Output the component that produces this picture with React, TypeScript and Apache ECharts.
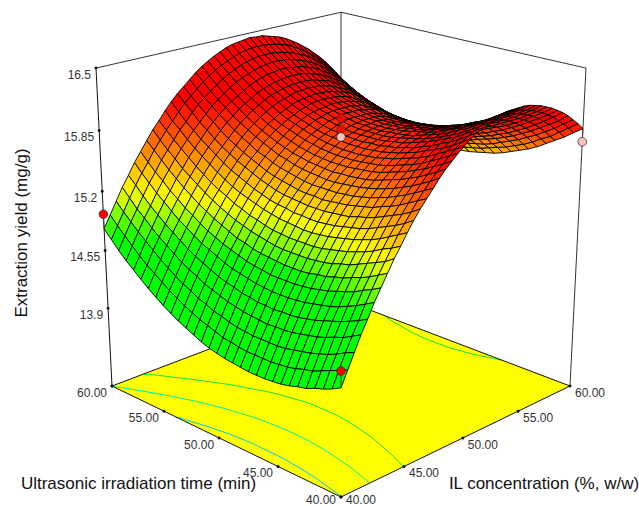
import React, { useEffect, useRef } from "react";
import * as echarts from "echarts";

// Extraction yield at each grid node: rows run along IL concentration (40 to 60), columns along time (40 to 60).
const surface: number[][] = [
[14.13,14.08,14.04,14.01,13.97,13.95,13.92,13.90,13.89,13.88,13.88,13.88,13.89,13.90,13.91,13.93,13.95,13.98,14.02,14.06,14.10,14.15,14.20,14.26,14.32,14.39,14.46,14.53,14.61,14.70,14.79],
[14.28,14.24,14.20,14.16,14.12,14.10,14.07,14.05,14.04,14.03,14.03,14.03,14.03,14.04,14.06,14.07,14.10,14.13,14.16,14.20,14.24,14.29,14.34,14.40,14.46,14.52,14.59,14.67,14.75,14.83,14.92],
[14.43,14.39,14.34,14.30,14.27,14.24,14.22,14.20,14.18,14.17,14.17,14.17,14.17,14.18,14.19,14.21,14.24,14.26,14.30,14.33,14.38,14.42,14.47,14.53,14.59,14.66,14.73,14.80,14.88,14.96,15.05],
[14.58,14.53,14.48,14.45,14.41,14.38,14.36,14.34,14.32,14.31,14.31,14.30,14.31,14.32,14.33,14.35,14.37,14.40,14.43,14.46,14.51,14.55,14.60,14.66,14.72,14.78,14.85,14.93,15.00,15.09,15.18],
[14.71,14.66,14.62,14.58,14.55,14.52,14.49,14.47,14.45,14.44,14.44,14.43,14.44,14.44,14.46,14.47,14.50,14.52,14.55,14.59,14.63,14.67,14.72,14.78,14.84,14.90,14.97,15.04,15.12,15.21,15.29],
[14.85,14.80,14.75,14.71,14.67,14.64,14.62,14.60,14.58,14.57,14.56,14.56,14.56,14.57,14.58,14.60,14.62,14.64,14.67,14.71,14.75,14.79,14.84,14.90,14.95,15.02,15.09,15.16,15.24,15.32,15.41],
[14.97,14.92,14.88,14.83,14.80,14.77,14.74,14.72,14.70,14.69,14.68,14.68,14.68,14.68,14.70,14.71,14.73,14.76,14.79,14.82,14.86,14.90,14.95,15.01,15.06,15.13,15.19,15.27,15.34,15.42,15.51],
[15.09,15.04,14.99,14.95,14.92,14.88,14.86,14.83,14.82,14.80,14.79,14.79,14.79,14.80,14.81,14.82,14.84,14.87,14.89,14.93,14.97,15.01,15.06,15.11,15.17,15.23,15.30,15.37,15.45,15.53,15.61],
[15.21,15.15,15.11,15.07,15.03,14.99,14.97,14.94,14.92,14.91,14.90,14.90,14.90,14.90,14.91,14.93,14.95,14.97,15.00,15.03,15.07,15.11,15.16,15.21,15.27,15.33,15.39,15.47,15.54,15.62,15.71],
[15.31,15.26,15.22,15.17,15.13,15.10,15.07,15.05,15.03,15.01,15.00,15.00,15.00,15.00,15.01,15.02,15.04,15.07,15.09,15.13,15.16,15.21,15.25,15.30,15.36,15.42,15.49,15.56,15.63,15.71,15.79],
[15.42,15.37,15.32,15.27,15.23,15.20,15.17,15.15,15.13,15.11,15.10,15.09,15.09,15.10,15.11,15.12,15.14,15.16,15.19,15.22,15.25,15.29,15.34,15.39,15.45,15.51,15.57,15.64,15.72,15.79,15.88],
[15.52,15.46,15.41,15.37,15.33,15.29,15.26,15.24,15.22,15.20,15.19,15.18,15.18,15.19,15.19,15.21,15.22,15.24,15.27,15.30,15.34,15.38,15.42,15.47,15.53,15.59,15.65,15.72,15.79,15.87,15.96],
[15.61,15.55,15.50,15.46,15.42,15.38,15.35,15.33,15.30,15.29,15.28,15.27,15.27,15.27,15.28,15.29,15.30,15.32,15.35,15.38,15.42,15.46,15.50,15.55,15.60,15.66,15.73,15.79,15.87,15.95,16.03],
[15.69,15.64,15.59,15.54,15.50,15.47,15.43,15.41,15.39,15.37,15.36,15.35,15.34,15.35,15.35,15.36,15.38,15.40,15.42,15.45,15.49,15.53,15.57,15.62,15.67,15.73,15.80,15.86,15.94,16.01,16.09],
[15.77,15.72,15.67,15.62,15.58,15.54,15.51,15.48,15.46,15.44,15.43,15.42,15.42,15.42,15.42,15.43,15.45,15.47,15.49,15.52,15.56,15.59,15.64,15.69,15.74,15.80,15.86,15.93,16.00,16.07,16.15],
[15.85,15.79,15.74,15.69,15.65,15.61,15.58,15.55,15.53,15.51,15.50,15.49,15.48,15.48,15.49,15.50,15.51,15.53,15.56,15.58,15.62,15.66,15.70,15.75,15.80,15.85,15.92,15.98,16.05,16.13,16.21],
[15.92,15.86,15.81,15.76,15.72,15.68,15.65,15.62,15.59,15.57,15.56,15.55,15.55,15.54,15.55,15.56,15.57,15.59,15.61,15.64,15.67,15.71,15.75,15.80,15.85,15.91,15.97,16.03,16.10,16.18,16.26],
[15.98,15.92,15.87,15.82,15.78,15.74,15.71,15.68,15.65,15.63,15.62,15.61,15.60,15.60,15.60,15.61,15.62,15.64,15.66,15.69,15.72,15.76,15.80,15.85,15.90,15.95,16.01,16.08,16.15,16.22,16.30],
[16.04,15.98,15.93,15.88,15.83,15.79,15.76,15.73,15.70,15.68,15.67,15.66,15.65,15.65,15.65,15.66,15.67,15.69,15.71,15.74,15.77,15.80,15.84,15.89,15.94,15.99,16.05,16.12,16.19,16.26,16.34],
[16.09,16.03,15.98,15.93,15.88,15.84,15.81,15.78,15.75,15.73,15.71,15.70,15.69,15.69,15.69,15.70,15.71,15.73,15.75,15.78,15.81,15.84,15.88,15.93,15.98,16.03,16.09,16.15,16.22,16.29,16.37],
[16.14,16.08,16.02,15.97,15.93,15.89,15.85,15.82,15.79,15.77,15.75,15.74,15.73,15.73,15.73,15.74,15.75,15.76,15.78,15.81,15.84,15.87,15.91,15.96,16.01,16.06,16.12,16.18,16.25,16.32,16.40],
[16.18,16.12,16.06,16.01,15.97,15.92,15.89,15.85,15.83,15.80,15.79,15.77,15.77,15.76,15.76,15.77,15.78,15.79,15.81,15.84,15.87,15.90,15.94,15.98,16.03,16.08,16.14,16.20,16.27,16.34,16.42],
[16.21,16.15,16.10,16.04,16.00,15.96,15.92,15.89,15.86,15.83,15.82,15.80,15.79,15.79,15.79,15.79,15.80,15.82,15.84,15.86,15.89,15.92,15.96,16.00,16.05,16.10,16.16,16.22,16.29,16.36,16.43],
[16.24,16.18,16.12,16.07,16.02,15.98,15.94,15.91,15.88,15.86,15.84,15.82,15.81,15.81,15.81,15.81,15.82,15.84,15.85,15.88,15.90,15.94,15.97,16.02,16.06,16.11,16.17,16.23,16.30,16.37,16.44],
[16.27,16.20,16.15,16.09,16.05,16.00,15.96,15.93,15.90,15.87,15.85,15.84,15.83,15.82,15.82,15.83,15.83,15.85,15.87,15.89,15.91,15.95,15.98,16.02,16.07,16.12,16.18,16.24,16.30,16.37,16.45],
[16.28,16.22,16.16,16.11,16.06,16.02,15.98,15.94,15.91,15.89,15.87,15.85,15.84,15.83,15.83,15.83,15.84,15.85,15.87,15.89,15.92,15.95,15.99,16.03,16.07,16.12,16.18,16.24,16.30,16.37,16.44],
[16.30,16.23,16.17,16.12,16.07,16.03,15.98,15.95,15.92,15.89,15.87,15.86,15.84,15.84,15.83,15.84,15.84,15.85,15.87,15.89,15.92,15.95,15.98,16.02,16.07,16.12,16.17,16.23,16.29,16.36,16.44],
[16.30,16.24,16.18,16.12,16.07,16.03,15.99,15.95,15.92,15.89,15.87,15.85,15.84,15.83,15.83,15.83,15.84,15.85,15.87,15.89,15.91,15.94,15.98,16.02,16.06,16.11,16.16,16.22,16.28,16.35,16.42],
[16.30,16.24,16.18,16.12,16.07,16.03,15.98,15.95,15.92,15.89,15.87,15.85,15.83,15.83,15.82,15.82,15.83,15.84,15.85,15.87,15.90,15.93,15.96,16.00,16.04,16.09,16.15,16.20,16.26,16.33,16.40],
[16.30,16.23,16.17,16.12,16.06,16.02,15.98,15.94,15.91,15.88,15.85,15.84,15.82,15.81,15.81,15.81,15.81,15.82,15.84,15.86,15.88,15.91,15.94,15.98,16.02,16.07,16.12,16.18,16.24,16.31,16.38],
[16.29,16.22,16.16,16.10,16.05,16.00,15.96,15.92,15.89,15.86,15.84,15.82,15.80,15.79,15.79,15.79,15.79,15.80,15.82,15.83,15.86,15.88,15.92,15.95,16.00,16.04,16.10,16.15,16.21,16.28,16.35],
[16.27,16.20,16.14,16.09,16.03,15.98,15.94,15.90,15.87,15.84,15.81,15.79,15.78,15.77,15.76,15.76,15.77,15.77,15.79,15.80,15.83,15.85,15.89,15.92,15.96,16.01,16.06,16.12,16.18,16.24,16.31],
[16.25,16.18,16.12,16.06,16.01,15.96,15.91,15.88,15.84,15.81,15.79,15.77,15.75,15.74,15.73,15.73,15.73,15.74,15.75,15.77,15.79,15.82,15.85,15.89,15.93,15.97,16.02,16.08,16.14,16.20,16.27],
[16.22,16.15,16.09,16.03,15.98,15.93,15.88,15.84,15.81,15.78,15.75,15.73,15.71,15.70,15.69,15.69,15.69,15.70,15.71,15.73,15.75,15.78,15.81,15.84,15.88,15.93,15.98,16.03,16.09,16.15,16.22],
[16.19,16.12,16.06,16.00,15.94,15.89,15.85,15.81,15.77,15.74,15.71,15.69,15.67,15.66,15.65,15.65,15.65,15.66,15.67,15.68,15.70,15.73,15.76,15.79,15.83,15.88,15.93,15.98,16.04,16.10,16.17],
[16.15,16.08,16.02,15.96,15.90,15.85,15.80,15.76,15.72,15.69,15.67,15.64,15.63,15.61,15.60,15.60,15.60,15.61,15.62,15.63,15.65,15.68,15.71,15.74,15.78,15.82,15.87,15.92,15.98,16.04,16.11],
[16.11,16.04,15.97,15.91,15.85,15.80,15.75,15.71,15.67,15.64,15.61,15.59,15.57,15.56,15.55,15.55,15.55,15.55,15.56,15.58,15.59,15.62,15.65,15.68,15.72,15.76,15.81,15.86,15.92,15.98,16.05],
[16.06,15.98,15.92,15.86,15.80,15.75,15.70,15.66,15.62,15.59,15.56,15.53,15.51,15.50,15.49,15.49,15.48,15.49,15.50,15.51,15.53,15.55,15.58,15.61,15.65,15.69,15.74,15.79,15.85,15.91,15.98],
[16.00,15.93,15.86,15.80,15.74,15.69,15.64,15.60,15.56,15.52,15.49,15.47,15.45,15.44,15.42,15.42,15.42,15.42,15.43,15.44,15.46,15.48,15.51,15.54,15.58,15.62,15.67,15.72,15.77,15.83,15.90],
[15.94,15.87,15.80,15.73,15.68,15.62,15.57,15.53,15.49,15.46,15.43,15.40,15.38,15.36,15.35,15.35,15.35,15.35,15.36,15.37,15.39,15.41,15.43,15.47,15.50,15.54,15.59,15.64,15.69,15.75,15.82],
[15.87,15.80,15.73,15.67,15.61,15.55,15.50,15.46,15.42,15.38,15.35,15.33,15.31,15.29,15.28,15.27,15.27,15.27,15.28,15.29,15.31,15.33,15.35,15.38,15.42,15.46,15.50,15.55,15.61,15.67,15.73],
];
const NA = surface.length - 1, NB = surface[0].length - 1;

const zTicks = [13.9, 14.55, 15.2, 15.85, 16.5];
const zLabels = ["13.9", "14.55", "15.2", "15.85", "16.5"];
const timeTicks = [40, 45, 50, 55, 60];
const ilTicks = [40, 45, 50, 55, 60];
const contourLevels = [14.14, 14.78, 15.41];
const contourColors = ["#00c8f8", "#00eea0", "#10e050"];
const designIL = [40, 60, 40, 50, 50, 50];
const designTime = [60, 40, 40, 50, 50, 50];
const designYield = [14.95, 15.73, 14.3, 15.98, 15.86, 15.78];
const designFill = ["#ff0000", "#ffc0c0", "#ff0000", "#ff0000", "#ff0000", "#ffc0c0"];

const Z0 = 13, Z1 = 16.5;
function project(a: number, b: number, z: number): number[] {
  const h = (z - Z0) / (Z1 - Z0);
  const w = 1 + 0.138 * (a + b) - 0.0743 * h;
  return [341 + 260.6 * (a - b) / w, (497 - 57.7 * (a + b) - 366.9 * h) / w];
}
function cellColor(z: number): string {
  const c = (t: number) => Math.round(255 * Math.max(0, Math.min(1, t)));
  if (z < 15.15) return `rgb(${c((z - 14.72) / 0.43)},255,0)`;
  return `rgb(255,${c(1 - (z - 15.15) / 0.8)},0)`;
}
function contourSegments() {
  const segs: { pts: number[][]; k: number }[] = [];
  contourLevels.forEach((lv, k) => {
    for (let i = 0; i < NA; i++) for (let j = 0; j < NB; j++) {
      const corners = [[i, j], [i + 1, j], [i + 1, j + 1], [i, j + 1]];
      const pts: number[][] = [];
      for (let e = 0; e < 4; e++) {
        const p = corners[e], q = corners[(e + 1) % 4];
        const zp = surface[p[0]][p[1]], zq = surface[q[0]][q[1]];
        if ((zp < lv) !== (zq < lv)) {
          const t = (lv - zp) / (zq - zp);
          pts.push([(p[0] + t * (q[0] - p[0])) / NA, (p[1] + t * (q[1] - p[1])) / NB]);
        }
      }
      if (pts.length >= 2) segs.push({ pts: pts.slice(0, 2), k });
    }
  });
  return segs;
}

export default function App() {
  const ref = useRef<HTMLDivElement>(null);
  useEffect(() => {
    document.body.style.margin = "0";
    const chart = echarts.init(ref.current!, undefined, { renderer: "svg" });
    const font = "Liberation Sans, Arial, sans-serif";
    const cells: number[][] = [];
    for (let i = NA - 1; i >= 0; i--) for (let j = NB - 1; j >= 0; j--) cells.push([i, j]);
    const segs = contourSegments();
    const lines: { p: number[][]; col: string; w: number }[] = [];
    const k = "#111";
    const edge = (p: number[], q: number[], col = k, w = 1) => lines.push({ p: [project(p[0], p[1], p[2]), project(q[0], q[1], q[2])], col, w });
    edge([0, 1, Z0], [0, 1, Z1]); edge([1, 0, Z0], [1, 0, Z1], "#333");
    edge([1, 1, Z0], [1, 1, Z1], "#333");
    edge([0, 1, Z1], [1, 1, Z1], "#333"); edge([1, 0, Z1], [1, 1, Z1], "#333");
    const floorLines: typeof lines = [];
    const fl = (p: number[], q: number[]) => floorLines.push({ p: [project(p[0], p[1], Z0), project(q[0], q[1], Z0)], col: k, w: 1 });
    fl([0, 0], [1, 0]); fl([0, 0], [0, 1]); fl([1, 0], [1, 1]); fl([0, 1], [1, 1]);
    const tickPts: number[][] = [];
    zTicks.forEach((z) => tickPts.push(project(0, 1, z)));
    tickPts.push(project(0, 1, Z0));
    timeTicks.forEach((t) => tickPts.push(project(0, (t - 40) / 20, Z0)));
    ilTicks.forEach((t) => tickPts.push(project((t - 40) / 20, 0, Z0)));
    const texts: { x: number; y: number; t: string; align: string; size: number; rot?: number; col: string }[] = [];
    zTicks.forEach((z, i) => { const p = project(0, 1, z); texts.push({ x: p[0] - 5, y: p[1] + 7, t: zLabels[i], align: "right", size: 12, col: "#333" }); });
    timeTicks.forEach((t) => { const p = project(0, (t - 40) / 20, Z0); texts.push({ x: p[0] - 20, y: Math.min(p[1] + 7, 499.5), t: t.toFixed(2), align: "center", size: 12, col: "#333" }); });
    ilTicks.forEach((t) => { const p = project((t - 40) / 20, 0, Z0); texts.push({ x: p[0] + 20, y: Math.min(p[1] + 7, 499.5), t: t.toFixed(2), align: "center", size: 12, col: "#333" }); });
    texts.push({ x: 138.5, y: 483, t: "Ultrasonic irradiation time (min)", align: "center", size: 17, col: "#111" });
    texts.push({ x: 544, y: 483, t: "IL concentration (%, w/w)", align: "center", size: 17, col: "#111" });
    texts.push({ x: 21, y: 233, t: "Extraction yield (mg/g)", align: "center", size: 17, rot: Math.PI / 2, col: "#111" });

    const da = (i: number) => (designIL[i] - 40) / 20, db = (i: number) => (designTime[i] - 40) / 20;
    const surfaceAt = (i: number) => surface[Math.round(da(i) * NA)][Math.round(db(i) * NB)];
    const base = { type: "custom", coordinateSystem: "cartesian2d", silent: true, clip: false, encode: { x: 0, y: 1 } };
    const lineItem = (api: any, l: any) => {
      const a = api.coord(l.p[0]), b = api.coord(l.p[1]);
      return { type: "line", shape: { x1: a[0], y1: a[1], x2: b[0], y2: b[1] }, style: { stroke: l.col, lineWidth: l.w, fill: "none" } };
    };
    chart.setOption({
      animation: false,
      backgroundColor: "#fff",
      grid: { left: 0, right: 0, top: 0, bottom: 0 },
      xAxis: { type: "value", min: 0, max: 639, show: false },
      yAxis: { type: "value", min: 0, max: 506, inverse: true, show: false },
      series: [
        { ...base, data: [[0, 0]], renderItem: (_: any, api: any) => ({ type: "polygon", shape: { points: [[0, 0], [1, 0], [1, 1], [0, 1]].map((c) => api.coord(project(c[0], c[1], Z0))) }, style: { fill: "#ffff00", stroke: "none" } }) },
        { ...base, data: segs.map((_, i) => [i, 0]), renderItem: (p: any, api: any) => { const s = segs[p.dataIndex]; return lineItem(api, { p: s.pts.map((q) => project(q[0], q[1], Z0)), col: contourColors[s.k], w: 1 }); } },
        { ...base, data: floorLines.map((_, i) => [i, 0]), renderItem: (p: any, api: any) => lineItem(api, floorLines[p.dataIndex]) },
        { ...base, data: lines.map((_, i) => [i, 0]), renderItem: (p: any, api: any) => lineItem(api, lines[p.dataIndex]) },
        { ...base, data: tickPts, renderItem: (_: any, api: any) => { const c = api.coord([api.value(0), api.value(1)]); return { type: "circle", shape: { cx: c[0], cy: c[1], r: 1.5 }, style: { fill: "#111" } }; } },
        { ...base, data: cells, renderItem: (_: any, api: any) => {
          const i = api.value(0), j = api.value(1);
          const z = [surface[i][j], surface[i + 1][j], surface[i + 1][j + 1], surface[i][j + 1]];
          const pts = [[i, j], [i + 1, j], [i + 1, j + 1], [i, j + 1]].map((c, n) => api.coord(project(c[0] / NA, c[1] / NB, z[n])));
          return { type: "polygon", shape: { points: pts }, style: { fill: cellColor((z[0] + z[1] + z[2] + z[3]) / 4), stroke: "#000", lineWidth: 0.9 } };
        } },
        { ...base, data: designYield.map((_, i) => [i, 0]), renderItem: (p: any, api: any) => { const i = p.dataIndex; return lineItem(api, { p: [project(da(i), db(i), designYield[i]), project(da(i), db(i), surfaceAt(i))], col: "#444", w: 1 }); } },
        { ...base, data: designYield.map((_, i) => [i, 0]), renderItem: (p: any, api: any) => { const i = p.dataIndex; const c = api.coord(project(da(i), db(i), designYield[i])); return { type: "circle", shape: { cx: c[0], cy: c[1], r: 4.3 }, style: { fill: designFill[i], stroke: "#333", lineWidth: 0.8 } }; } },
        { ...base, data: texts.map((_, i) => [i, 0]), renderItem: (p: any, api: any) => { const t = texts[p.dataIndex]; const c = api.coord([t.x, t.y]); return { type: "text", x: c[0], y: c[1], rotation: t.rot || 0, style: { text: t.t, align: t.align, verticalAlign: "middle", font: `${t.size}px ${font}`, fill: t.col } }; } },
      ],
    });
    return () => chart.dispose();
  }, []);
  return <div ref={ref} style={{ width: 639, height: 506 }} />;
}
